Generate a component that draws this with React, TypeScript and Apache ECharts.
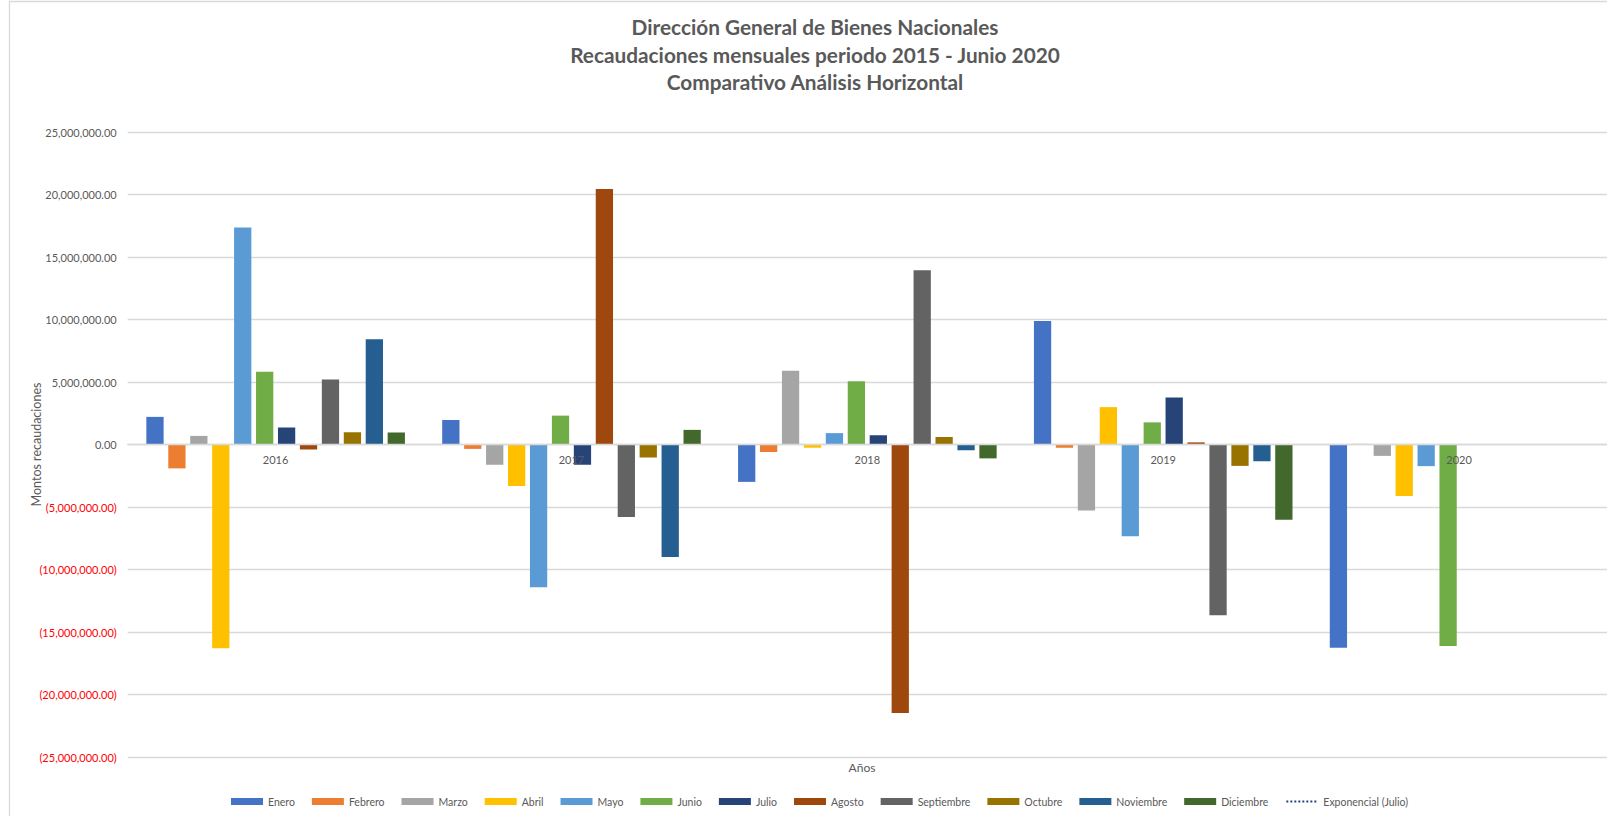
import React, { useEffect, useRef } from "react";
import * as echarts from "echarts";

const years = ["2016", "2017", "2018", "2019", "2020"];
const months = ["Enero", "Febrero", "Marzo", "Abril", "Mayo", "Junio", "Julio", "Agosto", "Septiembre", "Octubre", "Noviembre", "Diciembre"];
const monthColors = ["#4472C4", "#ED7D31", "#A5A5A5", "#FFC000", "#5B9BD5", "#70AD47", "#264478", "#9E480E", "#636363", "#997300", "#255E91", "#43682B"];

const enero = [2210000, 1970000, -2990000, 9880000, -16250000];
const febrero = [-1910000, -350000, -600000, -260000, 50000];
const marzo = [690000, -1620000, 5900000, -5270000, -910000];
const abril = [-16300000, -3320000, -260000, 2990000, -4110000];
const mayo = [17370000, -11410000, 910000, -7330000, -1730000];
const junio = [5820000, 2310000, 5070000, 1770000, -16120000];
const julio = [1360000, -1620000, 740000, 3760000, null];
const agosto = [-400000, 20450000, -21470000, 170000, null];
const septiembre = [5210000, -5800000, 13940000, -13650000, null];
const octubre = [980000, -1040000, 600000, -1710000, null];
const noviembre = [8430000, -8990000, -460000, -1340000, null];
const diciembre = [960000, 1170000, -1110000, -6010000, null];

const monthValues = [enero, febrero, marzo, abril, mayo, junio, julio, agosto, septiembre, octubre, noviembre, diciembre];

const titleLines = [
  "Dirección General de Bienes Nacionales",
  "Recaudaciones mensuales periodo 2015 - Junio 2020",
  "Comparativo Análisis Horizontal",
];
const yAxisName = "Montos recaudaciones";
const xAxisName = "Años";
const trendName = "Exponencial (Julio)";

const FONT = "Lato, 'Open Sans', sans-serif";

function fmt(v: number): string {
  const s = Math.abs(v).toLocaleString("en-US", { minimumFractionDigits: 2, maximumFractionDigits: 2 });
  return v < 0 ? "{neg|(" + s + ")}" : "{pos|" + s + "}";
}

const GRID_TOP = 132;
const GRID_BOTTOM = 59;
const CHART_H = 816;

export default function App() {
  const ref = useRef<HTMLDivElement>(null);
  useEffect(() => {
    if (!ref.current) return;
    const chart = echarts.init(ref.current, undefined, { renderer: "svg" });
    const gridH = CHART_H - GRID_TOP - GRID_BOTTOM;
    const zeroOffset = -gridH / 2; // move the category axis up onto the zero line
    const barSeries = months.map((m, i) => ({
      name: m,
      type: "bar",
      data: monthValues[i],
      itemStyle: { color: monthColors[i] },
      barGap: "27%",
      barCategoryGap: "12.6%",
    }));
    const option: any = {
      animation: false,
      backgroundColor: "#ffffff",
      graphic: [
        {
          type: "rect",
          silent: true,
          shape: { x: 9.5, y: 1.5, width: 1700, height: 900 },
          style: { fill: "none", stroke: "#d9d9d9", lineWidth: 1.3 },
        },
        ...titleLines.map((t, i) => ({
          type: "text",
          x: 815,
          y: 26.6 + i * 27.6,
          style: {
            text: t,
            textAlign: "center",
            textVerticalAlign: "middle",
            font: "bold 20.8px " + FONT,
            fill: "#595959",
          },
        })),
        {
          type: "text",
          x: 862,
          y: 767,
          style: {
            text: xAxisName,
            textAlign: "center",
            textVerticalAlign: "middle",
            font: "12px " + FONT,
            fill: "#595959",
          },
        },
      ],
      grid: { left: 127.7, right: 0, top: GRID_TOP, bottom: GRID_BOTTOM, containLabel: false },
      legend: {
        left: 226,
        top: 791,
        itemWidth: 32,
        itemHeight: 7,
        itemGap: 17,
        textStyle: { fontFamily: FONT, fontSize: 10.5, color: "#595959" },
        data: [
          ...months.map((m) => ({ name: m, icon: "rect" })),
          { name: trendName, itemStyle: { opacity: 0 } },
        ],
      },
      xAxis: {
        type: "category",
        data: years,
        offset: zeroOffset,
        z: 10,
        axisLine: { onZero: false, lineStyle: { color: "#d9d9d9", width: 1.3 } },
        axisTick: { show: false },
        axisLabel: { fontFamily: FONT, fontSize: 11, color: "#595959", margin: 9 },
        splitLine: { show: false },
      },
      yAxis: {
        type: "value",
        min: -25000000,
        max: 25000000,
        interval: 5000000,
        name: yAxisName,
        nameLocation: "middle",
        nameGap: 85,
        nameMoveOverlap: false,
        nameTextStyle: { fontFamily: FONT, fontSize: 12.5, color: "#595959" },
        axisLine: { show: false },
        axisTick: { show: false },
        axisLabel: {
          margin: 11,
          formatter: (v: number) => fmt(v),
          rich: {
            pos: { fontFamily: FONT, fontSize: 11, color: "#595959" },
            neg: { fontFamily: FONT, fontSize: 11, color: "#FF0000" },
          },
        },
        splitLine: { lineStyle: { color: "#d9d9d9", width: 1.3 } },
      },
      series: [
        ...barSeries,
        {
          name: trendName,
          type: "line",
          data: [],
          symbol: "none",
          itemStyle: { color: "#264478" },
          lineStyle: { color: "#264478", type: "dotted", width: 1.5 },
        },
      ],
    };
    chart.setOption(option);
    return () => chart.dispose();
  }, []);
  return <div ref={ref} style={{ position: "fixed", left: 0, top: 0, width: 1607, height: 816 }} />;
}
